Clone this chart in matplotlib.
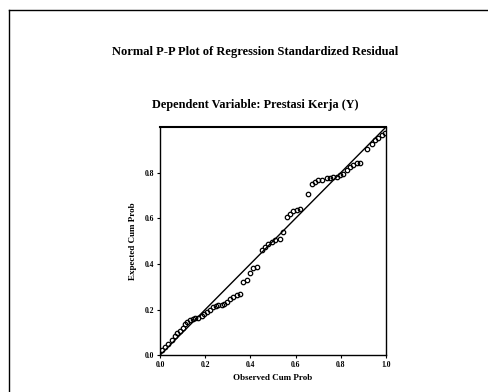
import matplotlib
matplotlib.use('Agg')
import matplotlib.pyplot as plt
from matplotlib.lines import Line2D

# observed vs expected cumulative probabilities
obs = [0.007, 0.022, 0.037, 0.052, 0.066, 0.077, 0.088, 0.100, 0.111, 0.121,
       0.133, 0.145, 0.155, 0.170, 0.184, 0.195, 0.206, 0.221, 0.236, 0.248,
       0.258, 0.273, 0.283, 0.295, 0.310, 0.324, 0.339, 0.354, 0.369, 0.383,
       0.398, 0.413, 0.428, 0.450, 0.465, 0.479, 0.494, 0.509, 0.531, 0.546,
       0.560, 0.575, 0.590, 0.605, 0.619, 0.656, 0.671, 0.686, 0.701, 0.715,
       0.737, 0.752, 0.767, 0.782, 0.796, 0.811, 0.826, 0.841, 0.855, 0.870,
       0.885, 0.914, 0.937, 0.951, 0.966, 0.981, 0.996]
exp = [0.022, 0.036, 0.048, 0.066, 0.083, 0.095, 0.107, 0.121, 0.136, 0.146,
       0.156, 0.159, 0.162, 0.165, 0.171, 0.180, 0.190, 0.200, 0.209, 0.215,
       0.218, 0.219, 0.226, 0.234, 0.244, 0.253, 0.263, 0.267, 0.321, 0.331,
       0.358, 0.380, 0.387, 0.460, 0.474, 0.486, 0.496, 0.504, 0.507, 0.540,
       0.606, 0.620, 0.632, 0.638, 0.642, 0.708, 0.752, 0.759, 0.766, 0.769,
       0.778, 0.778, 0.781, 0.781, 0.788, 0.796, 0.810, 0.825, 0.832, 0.842,
       0.842, 0.905, 0.927, 0.942, 0.953, 0.964, 0.974]
xticks = [0.0, 0.2, 0.4, 0.6, 0.8, 1.0]
yticks = [0.0, 0.2, 0.4, 0.6, 0.8]

plt.rcParams['font.family'] = ['Liberation Serif', 'DejaVu Serif']

fig = plt.figure(figsize=(4.88, 3.92), dpi=100)
ax = fig.add_axes([0.328, 0.094, 0.463, 0.582])

ax.plot([0, 1], [0, 1], color='black', lw=1.0)
ax.plot(obs, exp, 'o', ms=3.2, mfc='none', mec='black', mew=0.9)

ax.set_xlim(0, 1)
ax.set_ylim(0, 1)
ax.set_xticks(xticks)
ax.set_yticks(yticks)
ax.set_xticklabels(['%.1f' % t for t in xticks], fontsize=5.5, fontweight='bold')
ax.set_yticklabels(['%.1f' % t for t in yticks], fontsize=5.5, fontweight='bold')
ax.tick_params(length=2, width=0.8, pad=2)
for s in ax.spines.values():
    s.set_linewidth(1.0)
ax.spines['top'].set_linewidth(1.5)

ax.set_xlabel('Observed Cum Prob', fontsize=6.5, fontweight='bold', labelpad=4)
ax.set_ylabel('Expected Cum Prob', fontsize=6.5, fontweight='bold', labelpad=6)

fig.text(0.523, 0.867, 'Normal P-P Plot of Regression Standardized Residual',
         ha='center', va='center', fontsize=9, fontweight='bold')
fig.text(0.523, 0.732, 'Dependent Variable: Prestasi Kerja (Y)',
         ha='center', va='center', fontsize=8.8, fontweight='bold')

# page frame from the scanned document
fig.add_artist(Line2D([0.019, 0.019], [0.0, 0.974], color='black', lw=1.0))
fig.add_artist(Line2D([0.019, 1.0], [0.974, 0.974], color='black', lw=1.0))

fig.savefig('out.png', dpi=100)
